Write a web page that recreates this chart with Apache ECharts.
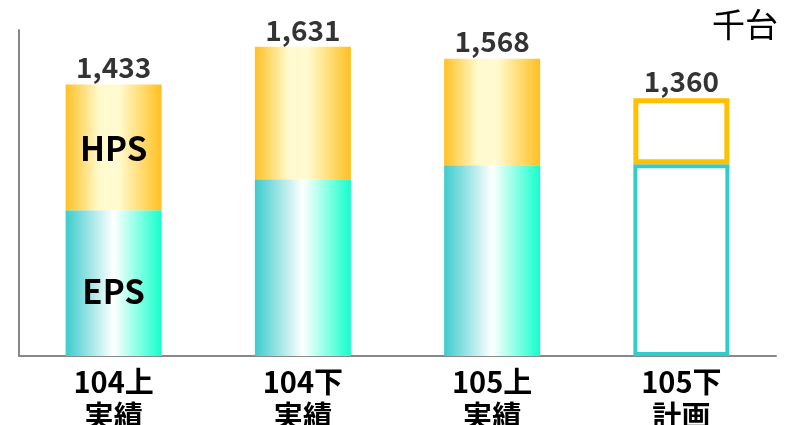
<!DOCTYPE html>
<html><head><meta charset="utf-8">
<script src="https://cdn.jsdelivr.net/npm/echarts@6/dist/echarts.min.js"></script>
<style>html,body{margin:0;padding:0;background:#fff}#c{width:785px;height:425px}</style>
</head><body><div id="c"></div>
<script>
const categories = ['104上\n実績', '104下\n実績', '105上\n実績', '105下\n計画'];
const epsValues = [769, 933, 1007, 1012];
const hpsValues = [664, 698, 561, 348];
const totals = [1433, 1631, 1568, 1360];
const unitLabel = '千台';

const font = '"Noto Sans CJK JP", "Noto Sans", sans-serif';
const G = echarts.graphic.LinearGradient;
const epsFill = new G(0, 0, 1, 0, [
  {offset: 0, color: '#3ecbcc'},
  {offset: 0.5, color: '#ffffff'},
  {offset: 1, color: '#14ffcc'}
]);
const hpsFill = new G(0, 0, 1, 0, [
  {offset: 0, color: '#ffc125'},
  {offset: 0.35, color: '#fffacd'},
  {offset: 0.55, color: '#fffbd0'},
  {offset: 1, color: '#ffc020'}
]);
const planIdx = 3;
const innerLabel = {show: true, position: 'inside', fontFamily: font, fontWeight: 'bold',
  fontSize: 33, color: '#000'};

const epsData = epsValues.map((v, i) => {
  const d = {value: v};
  if (i === planIdx) d.itemStyle = {color: 'rgba(255,255,255,0)', borderColor: '#33cccc', borderWidth: 4};
  if (i === 0) d.label = Object.assign({}, innerLabel, {formatter: 'EPS', offset: [0, 8]});
  return d;
});
const hpsData = hpsValues.map((v, i) => {
  const d = {value: v};
  if (i === planIdx) d.itemStyle = {color: 'rgba(255,255,255,0)', borderColor: '#ffc000', borderWidth: 5};
  if (i === 0) d.label = Object.assign({}, innerLabel, {formatter: 'HPS', offset: [0, 1]});
  return d;
});

const chart = echarts.init(document.getElementById('c'), null, {renderer: 'canvas'});
chart.setOption({
  animation: false,
  grid: {left: 19, right: 9, top: 30, bottom: 69, containLabel: false, outerBoundsMode: 'none'},
  xAxis: {
    type: 'category', data: categories,
    axisLine: {show: true, lineStyle: {color: '#888', width: 2}},
    axisTick: {show: false},
    axisLabel: {fontFamily: font, fontSize: 29, fontWeight: 'bold', color: '#000',
      lineHeight: 34, margin: 9, interval: 0}
  },
  yAxis: {
    type: 'value', min: 0, max: 1720,
    axisLine: {show: true, lineStyle: {color: '#888', width: 2}},
    axisTick: {show: false}, axisLabel: {show: false}, splitLine: {show: false}
  },
  graphic: [{
    type: 'text', right: 7, top: 8,
    style: {text: unitLabel, fontFamily: font, fontSize: 33, fill: '#000'}
  }],
  series: [
    {type: 'bar', stack: 't', barWidth: 96, itemStyle: {color: epsFill}, data: epsData, z: 3},
    {type: 'bar', stack: 't', barWidth: 96, itemStyle: {color: hpsFill}, data: hpsData, z: 3},
    {type: 'scatter', data: totals, symbolSize: 0, silent: true, z: 4,
      label: {show: true, position: 'top', distance: 3,
        formatter: p => p.value.toLocaleString('en-US'),
        fontFamily: font, fontSize: 28, fontWeight: 'bold', color: '#000'}
    }
  ]
});
</script></body></html>
